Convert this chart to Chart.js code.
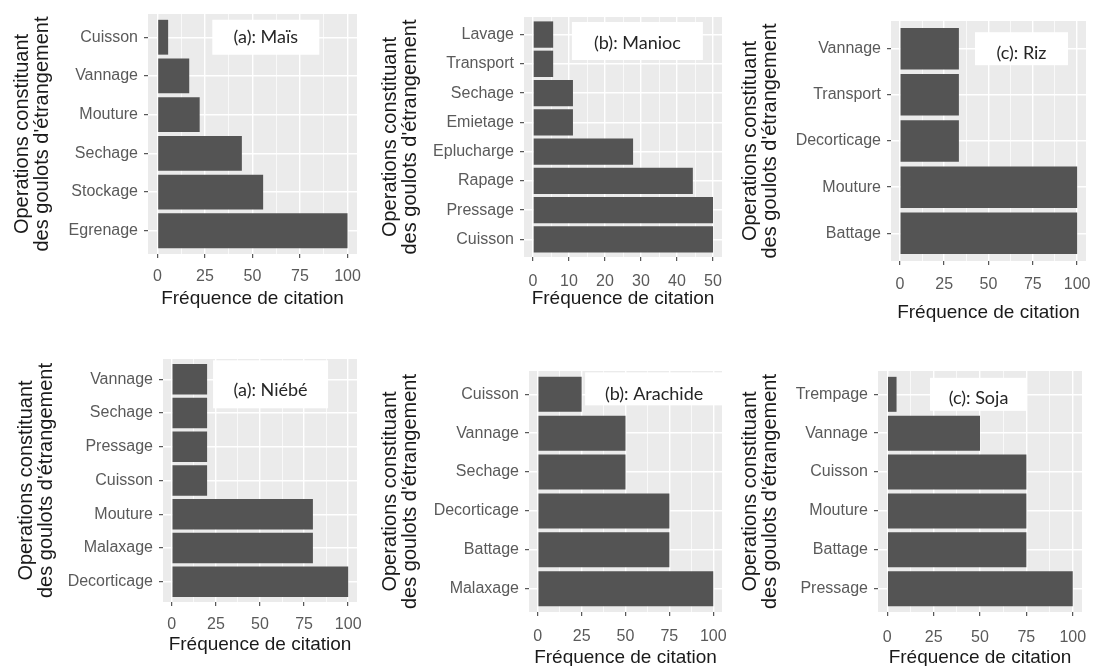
<!DOCTYPE html>
<html>
<head>
<meta charset="utf-8">
<script src="https://cdn.jsdelivr.net/npm/chart.js@4.4.1/dist/chart.umd.min.js"></script>
<style>
  html, body { margin: 0; padding: 0; background: #fff; }
  body { width: 1093px; height: 666px; position: relative; overflow: hidden; }
  canvas { position: absolute; }
</style>
</head>
<body>
<canvas id="c-mais"></canvas>
<canvas id="c-manioc"></canvas>
<canvas id="c-riz"></canvas>
<canvas id="c-niebe"></canvas>
<canvas id="c-arachide"></canvas>
<canvas id="c-soja"></canvas>
<script>
// valeurs, premier niveau = barre du bas (ordre ggplot)
const maisOps = ['Egrenage', 'Stockage', 'Sechage', 'Mouture', 'Vannage', 'Cuisson'];
const maisFreq = [100, 55.6, 44.4, 22.2, 16.7, 5.6];

const maniocOps = ['Cuisson', 'Pressage', 'Rapage', 'Eplucharge', 'Emietage', 'Sechage', 'Transport', 'Lavage'];
const maniocFreq = [50, 50, 44.4, 27.8, 11.1, 11.1, 5.6, 5.6];

const rizOps = ['Battage', 'Mouture', 'Decorticage', 'Transport', 'Vannage'];
const rizFreq = [100, 100, 33.3, 33.3, 33.3];

const niebeOps = ['Decorticage', 'Malaxage', 'Mouture', 'Cuisson', 'Pressage', 'Sechage', 'Vannage'];
const niebeFreq = [100, 80, 80, 20, 20, 20, 20];

const arachideOps = ['Malaxage', 'Battage', 'Decorticage', 'Sechage', 'Vannage', 'Cuisson'];
const arachideFreq = [100, 75, 75, 50, 50, 25];

const sojaOps = ['Pressage', 'Battage', 'Mouture', 'Cuisson', 'Vannage', 'Trempage'];
const sojaFreq = [100, 75, 75, 75, 50, 5];

const ticks100 = [0, 25, 50, 75, 100];
const ticks50 = [0, 10, 20, 30, 40, 50];

const xTitle = 'Fréquence de citation';
const yTitle = ['Operations constituant', "des goulots d'étrangement"];

Chart.defaults.font.family = '"Liberation Sans", Arial, sans-serif';

// box = zone grise [gauche, haut, droite, bas] en px de page
const panels = [
  { id: 'c-mais', ops: maisOps, freq: maisFreq, majors: ticks100, box: [148, 14, 357, 254], titleX: 22, tickPad: 9, xTitleY: 299,
    label: { text: '(a): Maïs', x: 57, y: 5, w: 107, h: 35, dy: 0 } },
  { id: 'c-manioc', ops: maniocOps, freq: maniocFreq, majors: ticks50, box: [524, 17, 722, 257], titleX: 390, tickPad: 11, xTitleY: 299,
    label: { text: '(b): Manioc', x: 29, y: 6.78, w: 131, h: 38, dy: 2 } },
  { id: 'c-riz', ops: rizOps, freq: rizFreq, majors: ticks100, box: [891, 21, 1086, 261], titleX: 750, tickPad: 10, xTitleY: 313,
    label: { text: '(c): Riz', x: 68.6, y: 4, w: 93, h: 33, dy: 4 } },
  { id: 'c-niebe', ops: niebeOps, freq: niebeFreq, majors: ticks100, box: [163, 359, 357, 602], titleX: 26, tickPad: 9, xTitleY: 645,
    label: { text: '(a): Niébé', x: 56, y: 5.85, w: 115, h: 48, dy: 6 } },
  { id: 'c-arachide', ops: arachideOps, freq: arachideFreq, majors: ticks100, box: [529, 371, 722, 612], titleX: 390, tickPad: 11, xTitleY: 658,
    label: { text: '(b): Arachide', x: 66.3, y: 5.14, w: 138, h: 33, dy: 5 } },
  { id: 'c-soja', ops: sojaOps, freq: sojaFreq, majors: ticks100, box: [878, 371, 1082, 612], titleX: 750, tickPad: 12, xTitleY: 658,
    label: { text: '(c): Soja', x: 49.2, y: 5, w: 97, h: 33, dy: 4 } },
];

const panelBg = {
  id: 'panelBg',
  beforeDraw(chart) {
    const { ctx, chartArea: a } = chart;
    ctx.save();
    ctx.fillStyle = '#ebebeb';
    ctx.fillRect(a.left, a.top, a.right - a.left, a.bottom - a.top);
    ctx.restore();
  }
};

function panelLabel(lab) {
  return {
    id: 'panelLabel',
    afterDatasetsDraw(chart) {
      const { ctx, chartArea: a, scales } = chart;
      const px = scales.x.getPixelForValue(lab.x);
      const py = scales.y.getPixelForValue(lab.y);
      ctx.save();
      ctx.beginPath();
      ctx.rect(a.left, a.top, a.right - a.left, a.bottom - a.top);
      ctx.clip();
      ctx.fillStyle = '#ffffff';
      ctx.fillRect(px - lab.w / 2, py - lab.h / 2, lab.w, lab.h);
      ctx.fillStyle = '#262626';
      ctx.font = '18px Lato, "Open Sans", sans-serif';
      ctx.textAlign = 'center';
      ctx.textBaseline = 'middle';
      ctx.fillText(lab.text, px, py + lab.dy);
      ctx.restore();
    }
  };
}

const extraRight = 14; // place pour le libellé "100"

panels.forEach(p => {
  const [pl, pt, pr, pb] = p.box;
  const left = p.titleX - 10;
  const width = pr - left + extraRight;
  const height = Math.round(p.xTitleY + 11.4 - pt);
  const yW = pl - left;
  const xH = height - (pb - pt);

  const canvas = document.getElementById(p.id);
  canvas.width = width;
  canvas.height = height;
  canvas.style.left = left + 'px';
  canvas.style.top = pt + 'px';

  // graduations majeures + mineures (milieux)
  const majors = p.majors;
  const xt = [];
  majors.forEach((v, i) => {
    xt.push(v);
    if (i < majors.length - 1) xt.push((v + majors[i + 1]) / 2);
  });
  const span = majors[majors.length - 1] - majors[0];
  const isMajor = c => c.tick && majors.includes(c.tick.value);

  new Chart(canvas, {
    type: 'bar',
    data: {
      datasets: [{
        data: p.freq.map((v, i) => ({ x: v, y: i })),
        backgroundColor: '#545454',
        borderWidth: 0,
        barPercentage: 0.9,
        categoryPercentage: 1
      }]
    },
    options: {
      indexAxis: 'y',
      responsive: false,
      animation: false,
      layout: { padding: { left: 0, top: 0, bottom: 0, right: extraRight } },
      plugins: { legend: { display: false }, tooltip: { enabled: false } },
      scales: {
        x: {
          type: 'linear',
          min: majors[0] - 0.05 * span,
          max: majors[majors.length - 1] + 0.05 * span,
          border: { display: false },
          afterBuildTicks: axis => { axis.ticks = xt.map(v => ({ value: v })); },
          afterFit: s => { s.height = xH; s.paddingLeft = 0; s.paddingRight = 0; },
          grid: {
            color: '#ffffff',
            lineWidth: c => isMajor(c) ? 1.4 : 0.7,
            tickLength: 4,
            tickWidth: 1,
            tickColor: c => isMajor(c) ? '#333333' : 'rgba(0,0,0,0)'
          },
          ticks: {
            autoSkip: false,
            maxRotation: 0,
            padding: p.tickPad,
            color: '#5a5a5a',
            font: { size: 16 },
            callback: v => majors.includes(v) ? String(v) : ''
          },
          title: { display: true, text: xTitle, color: '#1a1a1a', font: { size: 19 }, padding: 0 }
        },
        y: {
          type: 'linear',
          offset: false,
          min: -0.6,
          max: p.ops.length - 0.4,
          border: { display: false },
          afterBuildTicks: axis => { axis.ticks = p.ops.map((_, i) => ({ value: i })); },
          afterFit: s => { s.width = yW; s.paddingTop = 0; s.paddingBottom = 0; },
          grid: { offset: false, color: '#ffffff', lineWidth: 1.4, tickLength: 4, tickWidth: 1, tickColor: '#333333' },
          ticks: {
            autoSkip: false,
            padding: 6,
            color: '#5a5a5a',
            font: { size: 16 },
            callback: v => p.ops[v]
          },
          title: { display: true, text: yTitle, color: '#1a1a1a', font: { size: 20, lineHeight: 1 }, padding: 0 }
        }
      }
    },
    plugins: [panelBg, panelLabel(p.label)]
  });
});
</script>
</body>
</html>
